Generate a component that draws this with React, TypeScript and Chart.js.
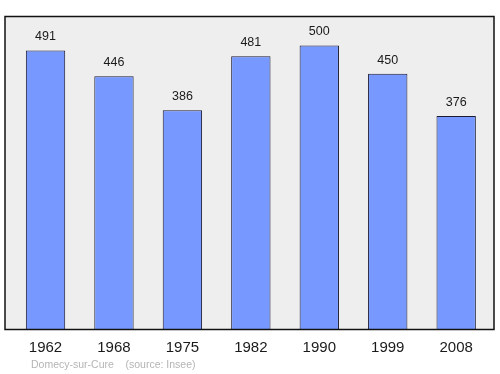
import React, { useEffect, useRef } from "react";
import { Chart, registerables } from "chart.js";

Chart.register(...registerables);

const years = ["1962", "1968", "1975", "1982", "1990", "1999", "2008"];
const population = [491, 446, 386, 481, 500, 450, 376];
const footerText = "Domecy-sur-Cure    (source: Insee)";

const framePlugin = {
  id: "frame",
  beforeDraw(chart: any) {
    const ctx = chart.ctx;
    const a = chart.chartArea;
    ctx.save();
    ctx.fillStyle = "#eeeeee";
    ctx.fillRect(5, a.top, 489, a.bottom - a.top);
    ctx.restore();
  },
  afterDraw(chart: any) {
    const ctx = chart.ctx;
    const a = chart.chartArea;
    const xs = chart.scales.x;
    const meta = chart.getDatasetMeta(0);
    ctx.save();
    ctx.strokeStyle = "#111111";
    ctx.lineWidth = 1.5;
    ctx.strokeRect(5, a.top, 489, a.bottom - a.top);
    ctx.textAlign = "center";
    ctx.textBaseline = "middle";
    ctx.fillStyle = "#1a1a1a";
    ctx.font = "12.5px 'Liberation Sans', Arial, sans-serif";
    meta.data.forEach((bar: any, i: number) => {
      ctx.fillText(String(population[i]), bar.x, bar.y - 13.8);
    });
    ctx.font = "15px 'Liberation Sans', Arial, sans-serif";
    years.forEach((y, i) => {
      ctx.fillText(y, xs.getPixelForValue(i), 347.8);
    });
    ctx.textAlign = "left";
    ctx.fillStyle = "#b4b4b4";
    ctx.font = "10.5px 'Liberation Sans', Arial, sans-serif";
    ctx.fillText(footerText, 31, 365);
    ctx.restore();
  },
};

export default function App() {
  const ref = useRef<HTMLCanvasElement>(null);
  useEffect(() => {
    document.body.style.margin = "0";
    const chart = new Chart(ref.current!, {
      type: "bar",
      data: {
        labels: years,
        datasets: [
          {
            data: population,
            backgroundColor: "#7799ff",
            borderColor: "#1a1a33",
            borderWidth: 1,
            barPercentage: 0.575,
            categoryPercentage: 1,
          },
        ],
      },
      options: {
        animation: false,
        responsive: false,
        events: [],
        layout: { padding: { left: 11.3, right: 9.6, top: 16.5, bottom: 44.5 } },
        plugins: { legend: { display: false }, tooltip: { enabled: false } },
        scales: {
          x: { display: false },
          y: { display: false, min: 0, max: 551 },
        },
      },
      plugins: [framePlugin],
    });
    return () => chart.destroy();
  }, []);
  return <canvas ref={ref} width={500} height={374} style={{ display: "block" }} />;
}
